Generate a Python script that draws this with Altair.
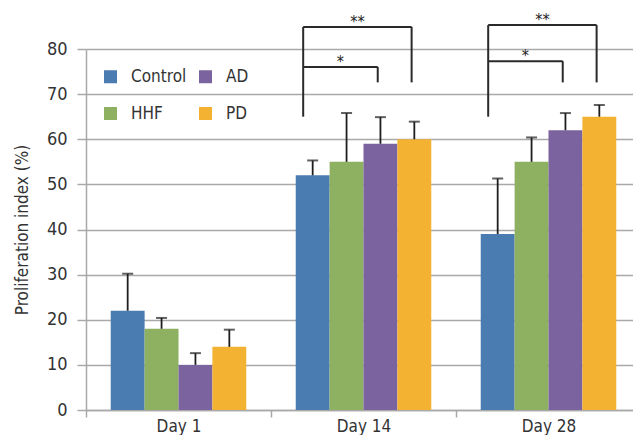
import altair as alt
import pandas as pd

days = ["Day 1", "Day 14", "Day 28"]
groups = ["Control", "HHF", "AD", "PD"]
colors = ["#4a7bb1", "#8db061", "#7a639e", "#f4b233"]

control = [22, 52, 39]
control_err = [8.2, 3.3, 12.3]
hhf = [18, 55, 55]
hhf_err = [2.4, 10.8, 5.4]
ad = [10, 59, 62]
ad_err = [2.6, 5.9, 3.8]
pdv = [14, 60, 65]
pdv_err = [3.8, 3.9, 2.6]

# significance brackets
sig_days = ["Day 14", "Day 14", "Day 28", "Day 28"]
sig_from = ["Control", "Control", "Control", "Control"]
sig_to = ["AD", "PD", "AD", "PD"]
sig_labels = ["*", "**", "*", "**"]
sig_top = [76.0, 84.9, 77.3, 85.3]
sig_left_bottom = 65.0
sig_right_bottom = 72.6

FONT = "Liberation Sans Narrow, DejaVu Sans Condensed, Roboto, sans-serif"
GRID = "#a9a9a9"
TXT = "#333333"

vals = [control, hhf, ad, pdv]
errs = [control_err, hhf_err, ad_err, pdv_err]
rows = []
for gi, g in enumerate(groups):
    for di, d in enumerate(days):
        rows.append({"day": d, "group": g, "value": vals[gi][di],
                     "hi": vals[gi][di] + errs[gi][di]})
df = pd.DataFrame(rows)

# bracket geometry, derived from the band layout (fractions of a day band)
OUTER = 0.73
BAR = 1.0 / (4 + 2 * OUTER)


def center(day, group):
    return days.index(day) + 0.5 + (groups.index(group) - 1.5) * BAR


seg = []
txt = []
for day in sorted(set(sig_days), key=days.index):
    idx = [i for i in range(len(sig_days)) if sig_days[i] == day]
    top_max = max(sig_top[i] for i in idx)
    xl = center(day, sig_from[idx[0]]) - 0.28 * BAR
    seg.append({"x": xl, "x2": xl, "y": sig_left_bottom, "y2": top_max})
    for i in idx:
        xr = center(day, sig_to[i]) - 0.08 * BAR
        seg.append({"x": xl, "x2": xr, "y": sig_top[i], "y2": sig_top[i]})
        seg.append({"x": xr, "x2": xr, "y": sig_right_bottom, "y2": sig_top[i]})
        txt.append({"x": (xl + xr) / 2, "y": sig_top[i], "label": sig_labels[i]})
seg_df = pd.DataFrame(seg)
txt_df = pd.DataFrame(txt)

W = 547
XR = 555  # the day bands run on past the right edge of the picture
TITLE = "Proliferation index (%)"
yscale = alt.Scale(domain=[0, 80], nice=False)
xscale = alt.Scale(paddingInner=0, paddingOuter=0, range=[0, XR])
xoff = alt.XOffset("group:N", sort=groups,
                   scale=alt.Scale(paddingInner=0, paddingOuter=OUTER))

bars = alt.Chart(df).mark_bar().encode(
    x=alt.X("day:N", sort=days, scale=xscale,
            axis=alt.Axis(title=None, labelAngle=0, tickBand="extent",
                          domainColor=GRID, domainWidth=1.5, tickColor=GRID,
                          tickWidth=1.5, tickSize=7, labelFontSize=17,
                          labelFont=FONT, labelColor=TXT, labelPadding=1)),
    xOffset=xoff,
    y=alt.Y("value:Q", scale=yscale, title=TITLE,
            axis=alt.Axis(values=list(range(0, 81, 10)), grid=True,
                          gridColor=GRID, gridWidth=1.5, domainColor=GRID,
                          domainWidth=1.5, tickColor=GRID, tickWidth=1.5,
                          tickSize=9, labelFontSize=18, labelFont=FONT,
                          labelColor=TXT, labelPadding=10, titleFont=FONT,
                          titleFontSize=17, titleFontWeight="normal",
                          titleColor=TXT, titlePadding=15)),
    color=alt.Color("group:N",
                    scale=alt.Scale(domain=groups, range=colors),
                    legend=alt.Legend(title=None, orient="none", legendX=16,
                                      legendY=19, columns=2,
                                      symbolType="square",
                                      symbolSize=169, symbolStrokeWidth=0,
                                      symbolOpacity=1, labelFontSize=17,
                                      labelFont=FONT, labelColor=TXT,
                                      labelOffset=12, columnPadding=10,
                                      rowPadding=19, padding=0)),
)

err_rule = alt.Chart(df).mark_rule(color="#1e1e1e", strokeWidth=1.8).encode(
    x=alt.X("day:N", sort=days, scale=xscale),
    xOffset=xoff,
    y=alt.Y("value:Q", scale=yscale, title=TITLE),
    y2="hi:Q",
)
err_cap = alt.Chart(df).mark_tick(color="#1e1e1e", thickness=2, size=11).encode(
    x=alt.X("day:N", sort=days, scale=xscale),
    xOffset=xoff,
    y=alt.Y("hi:Q", scale=yscale, title=TITLE),
)

base = alt.layer(bars, err_rule, err_cap)

qx = alt.Scale(domain=[0, len(days)], nice=False, zero=False, range=[0, XR])
br = alt.Chart(seg_df).mark_rule(color="#2a2a2a", strokeWidth=2).encode(
    x=alt.X("x:Q", scale=qx, axis=None),
    x2="x2:Q",
    y=alt.Y("y:Q", scale=yscale, title=TITLE),
    y2="y2:Q",
)
stars = alt.Chart(txt_df).mark_text(fontSize=16, font=FONT, color="#222222",
                                   baseline="alphabetic", dy=0).encode(
    x=alt.X("x:Q", scale=qx, axis=None),
    y=alt.Y("y:Q", scale=yscale, title=TITLE),
    text="label:N",
)
ann = alt.layer(br, stars)

chart = alt.layer(base, ann).resolve_scale(x="independent").properties(
    width=W, height=361,
    padding={"left": 78, "top": 41, "right": 0, "bottom": 25},
    autosize=alt.AutoSizeParams(type="none"),
).configure_view(stroke=None)

chart.save("out.html", embed_options={"renderer": "svg", "actions": False})
